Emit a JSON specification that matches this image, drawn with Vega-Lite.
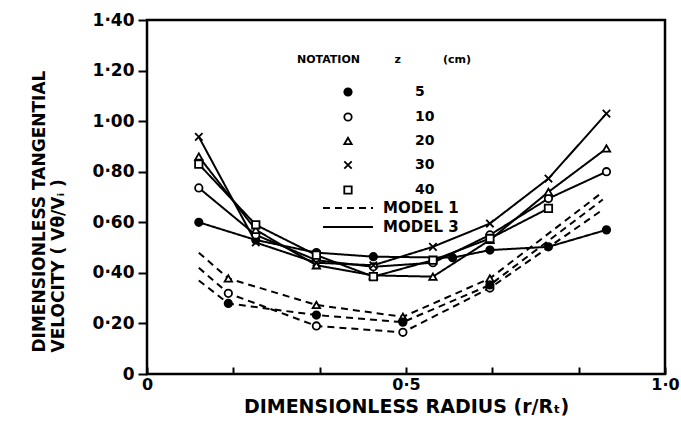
{
  "$schema": "https://vega.github.io/schema/vega-lite/v6.json",
  "width": 518,
  "height": 354,
  "autosize": "none",
  "padding": {"left": 147, "top": 20, "right": 16, "bottom": 58},
  "background": "white",
  "config": {
    "view": {"stroke": "black", "strokeWidth": 2.5},
    "font": "DejaVu Sans",
    "axis": {"labelFont": "DejaVu Sans", "titleFont": "DejaVu Sans", "labelColor": "black", "titleColor": "black", "tickColor": "black", "domain": false, "grid": false, "labelFontWeight": "bold", "titleFontWeight": "bold"},
    "legend": {"labelFont": "DejaVu Sans", "titleFont": "DejaVu Sans", "labelColor": "black", "titleColor": "black", "labelFontWeight": "bold", "titleFontWeight": "bold"}
  },
  "data": {
    "values": [
      {"model": "MODEL 3", "z": "5", "x": 0.1, "y": 0.6},
      {"model": "MODEL 3", "z": "5", "x": 0.21, "y": 0.53},
      {"model": "MODEL 3", "z": "5", "x": 0.327, "y": 0.48},
      {"model": "MODEL 3", "z": "5", "x": 0.437, "y": 0.464},
      {"model": "MODEL 3", "z": "5", "x": 0.59, "y": 0.46},
      {"model": "MODEL 3", "z": "5", "x": 0.662, "y": 0.49},
      {"model": "MODEL 3", "z": "5", "x": 0.775, "y": 0.503},
      {"model": "MODEL 3", "z": "5", "x": 0.887, "y": 0.57},
      {"model": "MODEL 3", "z": "10", "x": 0.1, "y": 0.736},
      {"model": "MODEL 3", "z": "10", "x": 0.21, "y": 0.55},
      {"model": "MODEL 3", "z": "10", "x": 0.327, "y": 0.45},
      {"model": "MODEL 3", "z": "10", "x": 0.437, "y": 0.424},
      {"model": "MODEL 3", "z": "10", "x": 0.552, "y": 0.44},
      {"model": "MODEL 3", "z": "10", "x": 0.662, "y": 0.55},
      {"model": "MODEL 3", "z": "10", "x": 0.775, "y": 0.694},
      {"model": "MODEL 3", "z": "10", "x": 0.887, "y": 0.8},
      {"model": "MODEL 3", "z": "20", "x": 0.1, "y": 0.86},
      {"model": "MODEL 3", "z": "20", "x": 0.21, "y": 0.57},
      {"model": "MODEL 3", "z": "20", "x": 0.327, "y": 0.43},
      {"model": "MODEL 3", "z": "20", "x": 0.437, "y": 0.39},
      {"model": "MODEL 3", "z": "20", "x": 0.552, "y": 0.385},
      {"model": "MODEL 3", "z": "20", "x": 0.662, "y": 0.53},
      {"model": "MODEL 3", "z": "20", "x": 0.775, "y": 0.72},
      {"model": "MODEL 3", "z": "20", "x": 0.887, "y": 0.892},
      {"model": "MODEL 3", "z": "30", "x": 0.1, "y": 0.938},
      {"model": "MODEL 3", "z": "30", "x": 0.21, "y": 0.52},
      {"model": "MODEL 3", "z": "30", "x": 0.327, "y": 0.44},
      {"model": "MODEL 3", "z": "30", "x": 0.437, "y": 0.43},
      {"model": "MODEL 3", "z": "30", "x": 0.552, "y": 0.503},
      {"model": "MODEL 3", "z": "30", "x": 0.662, "y": 0.595},
      {"model": "MODEL 3", "z": "30", "x": 0.775, "y": 0.773},
      {"model": "MODEL 3", "z": "30", "x": 0.887, "y": 1.03},
      {"model": "MODEL 3", "z": "40", "x": 0.1, "y": 0.83},
      {"model": "MODEL 3", "z": "40", "x": 0.21, "y": 0.59},
      {"model": "MODEL 3", "z": "40", "x": 0.327, "y": 0.47},
      {"model": "MODEL 3", "z": "40", "x": 0.437, "y": 0.385},
      {"model": "MODEL 3", "z": "40", "x": 0.552, "y": 0.45},
      {"model": "MODEL 3", "z": "40", "x": 0.662, "y": 0.536},
      {"model": "MODEL 3", "z": "40", "x": 0.775, "y": 0.655},
      {"model": "MODEL 1", "z": "20", "x": 0.1, "y": 0.48},
      {"model": "MODEL 1", "z": "20", "x": 0.157, "y": 0.378},
      {"model": "MODEL 1", "z": "20", "x": 0.327, "y": 0.273},
      {"model": "MODEL 1", "z": "20", "x": 0.494, "y": 0.226},
      {"model": "MODEL 1", "z": "20", "x": 0.662, "y": 0.378},
      {"model": "MODEL 1", "z": "20", "x": 0.88, "y": 0.72},
      {"model": "MODEL 1", "z": "10", "x": 0.1, "y": 0.42},
      {"model": "MODEL 1", "z": "10", "x": 0.157, "y": 0.319},
      {"model": "MODEL 1", "z": "10", "x": 0.327, "y": 0.19},
      {"model": "MODEL 1", "z": "10", "x": 0.494, "y": 0.165},
      {"model": "MODEL 1", "z": "10", "x": 0.662, "y": 0.34},
      {"model": "MODEL 1", "z": "10", "x": 0.88, "y": 0.65},
      {"model": "MODEL 1", "z": "5", "x": 0.1, "y": 0.37},
      {"model": "MODEL 1", "z": "5", "x": 0.157, "y": 0.279},
      {"model": "MODEL 1", "z": "5", "x": 0.327, "y": 0.233},
      {"model": "MODEL 1", "z": "5", "x": 0.494, "y": 0.205},
      {"model": "MODEL 1", "z": "5", "x": 0.662, "y": 0.352},
      {"model": "MODEL 1", "z": "5", "x": 0.88, "y": 0.69}
    ]
  },
  "encoding": {
    "x": {
      "field": "x", "type": "quantitative",
      "scale": {"domain": [0, 1], "nice": false, "zero": false},
      "axis": {
        "values": [0, 0.1667, 0.3333, 0.5, 0.6667, 0.8333, 1],
        "labelExpr": "datum.value == 0 ? '0' : datum.value == 0.5 ? '0·5' : datum.value == 1 ? '1·0' : ''",
        "labelFlush": false,
        "tickSize": -7, "tickWidth": 2, "labelPadding": 9, "labelFontSize": 16,
        "title": "DIMENSIONLESS RADIUS (r/Rₜ)", "titleFontSize": 19, "titlePadding": 5
      }
    },
    "y": {
      "field": "y", "type": "quantitative",
      "scale": {"domain": [0, 1.4], "nice": false},
      "axis": {
        "values": [0, 0.2, 0.4, 0.6, 0.8, 1.0, 1.2, 1.4],
        "labelExpr": "datum.value == 0 ? '0' : replace(format(datum.value, '.2f'), '.', '·')",
        "labelFlush": false,
        "tickSize": 9, "tickWidth": 2, "labelPadding": 4, "labelFontSize": 17,
        "title": ["DIMENSIONLESS TANGENTIAL", "VELOCITY ( Vθ/Vᵢ )"], "titleFontSize": 17,
        "titleX": -99, "titleY": 332, "titleAngle": 270, "titleAlign": "left", "titleBaseline": "bottom", "titleLineHeight": 19
      }
    }
  },
  "layer": [
    {
      "mark": {"type": "line", "color": "black", "strokeWidth": 2},
      "encoding": {
        "detail": {"field": "z"},
        "strokeDash": {
          "field": "model", "type": "nominal",
          "scale": {"domain": ["MODEL 1", "MODEL 3"], "range": [[7, 5], [1, 0]]},
          "legend": {
            "orient": "none", "legendX": 190, "legendY": 177, "title": null,
            "symbolType": "M-2.5,0L2.5,0", "symbolSize": 400, "symbolStrokeWidth": 2, "symbolStrokeColor": "black",
            "labelFontSize": 15, "labelOffset": 24, "rowPadding": 0
          }
        }
      }
    },
    {
      "transform": [{"filter": "datum.model == 'MODEL 3' || (datum.x > 0.12 && datum.x < 0.85)"}],
      "mark": {"type": "point", "filled": true, "strokeWidth": 1.8, "size": 55, "opacity": 1},
      "encoding": {
        "shape": {
          "field": "z", "type": "nominal",
          "scale": {"domain": ["5", "10", "20", "30", "40"], "range": ["circle", "circle", "triangle-up", "M-1,-1L1,1M-1,1L1,-1", "square"]},
          "legend": {
            "orient": "none", "legendX": 150, "legendY": 34, "title": "NOTATION\u00a0\u00a0\u00a0\u00a0\u00a0\u00a0\u00a0\u00a0\u00a0z\u00a0\u00a0\u00a0\u00a0\u00a0\u00a0\u00a0\u00a0\u00a0\u00a0\u00a0(cm)",
            "titleFontSize": 11, "titlePadding": 20,
            "symbolOffset": 44, "symbolSize": 55, "symbolStrokeWidth": 1.8,
            "labelFontSize": 14, "labelOffset": 60, "rowPadding": 9
          }
        },
        "fill": {
          "field": "z", "type": "nominal",
          "scale": {"domain": ["5", "10", "20", "30", "40"], "range": ["black", "white", "white", "white", "white"]},
          "legend": {
            "orient": "none", "legendX": 150, "legendY": 34, "title": "NOTATION\u00a0\u00a0\u00a0\u00a0\u00a0\u00a0\u00a0\u00a0\u00a0z\u00a0\u00a0\u00a0\u00a0\u00a0\u00a0\u00a0\u00a0\u00a0\u00a0\u00a0(cm)",
            "titleFontSize": 11, "titlePadding": 20,
            "symbolOffset": 44, "symbolSize": 55, "symbolStrokeWidth": 1.8,
            "labelFontSize": 14, "labelOffset": 60, "rowPadding": 9
          }
        },
        "stroke": {
          "field": "z", "type": "nominal",
          "scale": {"domain": ["5", "10", "20", "30", "40"], "range": ["black", "black", "black", "black", "black"]},
          "legend": {
            "orient": "none", "legendX": 150, "legendY": 34, "title": "NOTATION\u00a0\u00a0\u00a0\u00a0\u00a0\u00a0\u00a0\u00a0\u00a0z\u00a0\u00a0\u00a0\u00a0\u00a0\u00a0\u00a0\u00a0\u00a0\u00a0\u00a0(cm)",
            "titleFontSize": 11, "titlePadding": 20,
            "symbolOffset": 44, "symbolSize": 55, "symbolStrokeWidth": 1.8,
            "labelFontSize": 14, "labelOffset": 60, "rowPadding": 9
          }
        }
      }
    }
  ]
}
